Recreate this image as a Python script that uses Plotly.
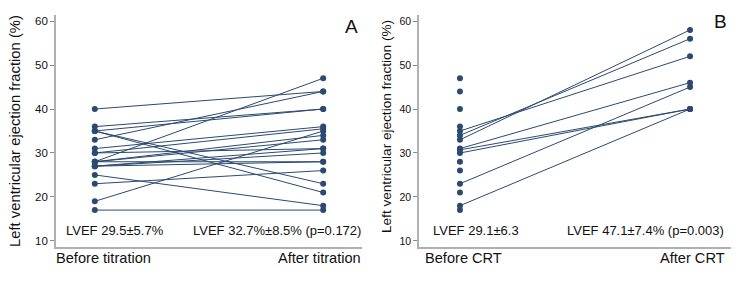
import plotly.graph_objects as go

# Panel A: paired LVEF before / after titration
a_before = [40, 36, 35, 35, 35, 33, 28, 19, 17, 25, 23, 31, 30, 30, 28, 28, 27, 27, 27, 28]
a_after = [44, 40, 40, 23, 21, 44, 47, 35, 17, 18, 26, 36, 35.5, 31, 34, 33, 30, 31, 28, 28]

# Panel B: paired LVEF before / after CRT
b_before_paired = [33, 34, 35, 31, 30.7, 30, 23, 18]
b_after_paired = [58, 56, 52, 46, 40, 40, 45, 40]
b_before_only = [47, 44, 40, 36, 28, 26, 21, 17]

x_labels_a = ["Before titration", "After titration"]
x_labels_b = ["Before CRT", "After CRT"]
y_ticks = [10, 20, 30, 40, 50, 60]

COL = "#2b4a6f"
FONT = "Liberation Sans, Arial, Helvetica, sans-serif"

W, H = 750, 290
ML, MR, MT, MB = 56, 19, 15, 43
PW, PH = W - ML - MR, H - MT - MB

fig = go.Figure()

for b, a in zip(a_before, a_after):
    fig.add_trace(go.Scatter(x=[0, 1], y=[b, a], mode="lines+markers",
                             line=dict(color=COL, width=1), marker=dict(color=COL, size=6),
                             xaxis="x", yaxis="y", showlegend=False, hoverinfo="skip"))

for b, a in zip(b_before_paired, b_after_paired):
    fig.add_trace(go.Scatter(x=[0, 1], y=[b, a], mode="lines+markers",
                             line=dict(color=COL, width=1), marker=dict(color=COL, size=6),
                             xaxis="x2", yaxis="y2", showlegend=False, hoverinfo="skip"))
fig.add_trace(go.Scatter(x=[0] * len(b_before_only), y=b_before_only, mode="markers",
                         marker=dict(color=COL, size=6),
                         xaxis="x2", yaxis="y2", showlegend=False, hoverinfo="skip"))

axis_common = dict(showgrid=False, zeroline=False, showline=True, linecolor="#b0b0b0", linewidth=1.6)

fig.update_layout(
    width=W, height=H,
    margin=dict(l=ML, r=MR, t=MT, b=MB),
    paper_bgcolor="white", plot_bgcolor="white",
    font=dict(family=FONT, color="#111"),
    xaxis=dict(domain=[0, (362 - ML) / PW], range=[-0.17, 1.17], showticklabels=False, ticks="", **axis_common),
    xaxis2=dict(domain=[(419 - ML) / PW, 1], range=[-0.178, 1.178], showticklabels=False, ticks="", **axis_common),
    yaxis=dict(range=[8.6, 61.4], tickvals=y_ticks, ticks="outside", ticklen=4, tickcolor="#888",
               tickfont=dict(size=11.5), **axis_common),
    yaxis2=dict(range=[8.6, 61.4], tickvals=y_ticks, ticks="outside", ticklen=4, tickcolor="#888",
                tickfont=dict(size=10.5), anchor="x2", **axis_common),
)


def px_x(px):
    return (px - ML) / PW


def px_y(py):
    return 1 - (py - MT) / PH


annotations = [
    dict(x=px_x(15), y=px_y(131), text="Left ventricular ejection fraction (%)", textangle=-90,
         font=dict(size=14.8), xanchor="center", yanchor="middle"),
    dict(x=px_x(386), y=px_y(127), text="Left ventricular ejection fraction (%)", textangle=-90,
         font=dict(size=13.6), xanchor="center", yanchor="middle"),
    dict(x=px_x(54), y=px_y(258), text=x_labels_a[0], font=dict(size=14.6), xanchor="left", yanchor="middle"),
    dict(x=px_x(363), y=px_y(258), text=x_labels_a[1], font=dict(size=14.6), xanchor="right", yanchor="middle"),
    dict(x=px_x(423), y=px_y(258), text=x_labels_b[0], font=dict(size=14.6), xanchor="left", yanchor="middle"),
    dict(x=px_x(727), y=px_y(258), text=x_labels_b[1], font=dict(size=14.6), xanchor="right", yanchor="middle"),
    dict(x=px_x(64), y=px_y(230), text="LVEF 29.5±5.7%", font=dict(size=13), xanchor="left", yanchor="middle"),
    dict(x=px_x(363), y=px_y(230), text="LVEF 32.7%±8.5% (p=0.172)", font=dict(size=13), xanchor="right", yanchor="middle"),
    dict(x=px_x(431), y=px_y(230), text="LVEF 29.1±6.3", font=dict(size=13), xanchor="left", yanchor="middle"),
    dict(x=px_x(726), y=px_y(230), text="LVEF 47.1±7.4% (p=0.003)", font=dict(size=13), xanchor="right", yanchor="middle"),
    dict(x=px_x(351), y=px_y(26), text="A", font=dict(size=19), xanchor="center", yanchor="middle"),
    dict(x=px_x(720), y=px_y(21), text="B", font=dict(size=19), xanchor="center", yanchor="middle"),
]
for a in annotations:
    a.update(xref="paper", yref="paper", showarrow=False)
fig.update_layout(annotations=annotations)

fig.write_html("out.html", config={"displayModeBar": False},
               post_script="document.body.style.margin='0';")
